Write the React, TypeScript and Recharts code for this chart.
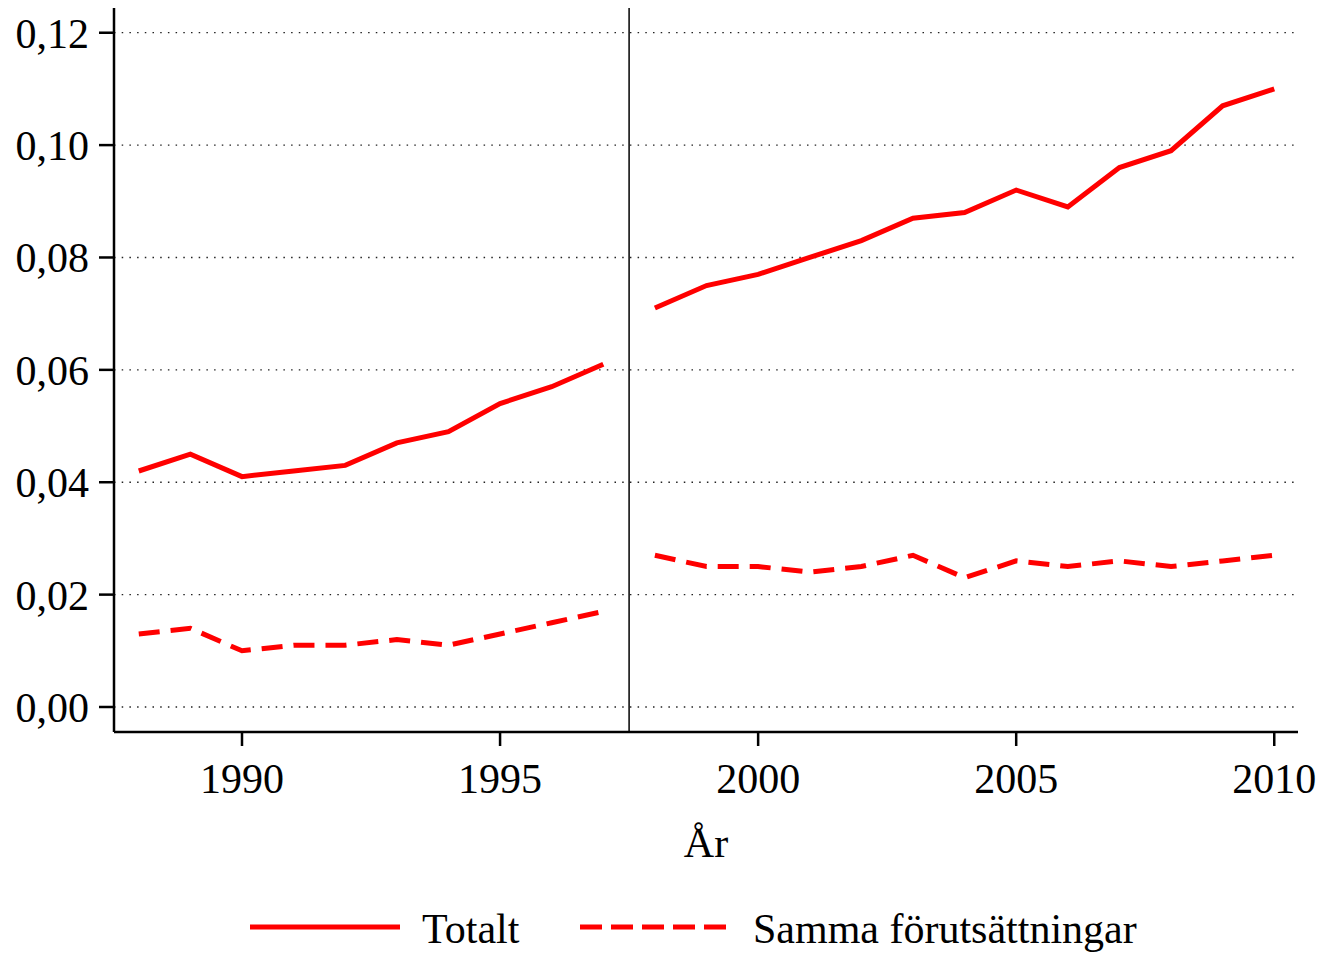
import { LineChart, Line, XAxis, YAxis, CartesianGrid, ReferenceLine } from 'recharts'

const RED = '#ff0000'
const FONT = '"Liberation Serif", "Times New Roman", serif'

// Two periods, drawn as separate segments (break between 1997 and 1998)
const yearsA = [1988, 1989, 1990, 1991, 1992, 1993, 1994, 1995, 1996, 1997]
const totaltA = [0.042, 0.045, 0.041, 0.042, 0.043, 0.047, 0.049, 0.054, 0.057, 0.061]
const sammaA = [0.013, 0.014, 0.010, 0.011, 0.011, 0.012, 0.011, 0.013, 0.015, 0.017]

const yearsB = [1998, 1999, 2000, 2001, 2002, 2003, 2004, 2005, 2006, 2007, 2008, 2009, 2010]
const totaltB = [0.071, 0.075, 0.077, 0.080, 0.083, 0.087, 0.088, 0.092, 0.089, 0.096, 0.099, 0.107, 0.110]
const sammaB = [0.027, 0.025, 0.025, 0.024, 0.025, 0.027, 0.023, 0.026, 0.025, 0.026, 0.025, 0.026, 0.027]

const breakYear = 1997.5
const xTicks = [1990, 1995, 2000, 2005, 2010]
const yTicks = [0, 0.02, 0.04, 0.06, 0.08, 0.1, 0.12]

const data = [
  ...yearsA.map((year, i) => ({ year, totalt: totaltA[i], samma: sammaA[i] })),
  { year: breakYear, totalt: null, samma: null },
  ...yearsB.map((year, i) => ({ year, totalt: totaltB[i], samma: sammaB[i] })),
]

const W = 1316
const H = 945

export default function App() {
  const tickStyle = { fontFamily: FONT, fontSize: 42, fill: '#000' }
  return (
    <div style={{ position: 'relative', width: W, height: H }}>
      <LineChart width={W} height={H} data={data} margin={{ top: 0, right: 26, left: 0, bottom: 0 }}>
        <CartesianGrid
          vertical={false}
          horizontalValues={yTicks}
          stroke="#222"
          strokeWidth={1.3}
          strokeDasharray="1.5 6.2"
        />
        <XAxis
          dataKey="year"
          type="number"
          domain={[1987.52, 2010.46]}
          allowDataOverflow
          ticks={xTicks}
          height={221}
          tickSize={14}
          tickMargin={17}
          stroke="#000"
          strokeWidth={2.5}
          tick={tickStyle}
          label={{ value: 'År', position: 'insideBottom', offset: 96, style: { ...tickStyle, textAnchor: 'middle' } }}
        />
        <YAxis
          type="number"
          domain={[-0.00445, 0.1244]}
          allowDataOverflow
          ticks={yTicks}
          width={106}
          tickSize={15}
          tickMargin={10}
          stroke="#000"
          strokeWidth={2.5}
          tick={tickStyle}
          tickFormatter={(v: number) => v.toFixed(2).replace('.', ',')}
        />
        <ReferenceLine x={breakYear} stroke="#000" strokeWidth={1.5} />
        <Line
          dataKey="totalt"
          stroke={RED}
          strokeWidth={5}
          dot={false}
          connectNulls={false}
          isAnimationActive={false}
        />
        <Line
          dataKey="samma"
          stroke={RED}
          strokeWidth={5}
          strokeDasharray="21 11"
          dot={false}
          connectNulls={false}
          isAnimationActive={false}
        />
      </LineChart>
      <svg width={W} height={H} style={{ position: 'absolute', left: 0, top: 0, pointerEvents: 'none' }}>
        <line x1={242} y1={919} x2={392} y2={919} stroke={RED} strokeWidth={5} />
        <text x={414} y={935} style={tickStyle}>Totalt</text>
        <line x1={572} y1={919} x2={718} y2={919} stroke={RED} strokeWidth={5} strokeDasharray="22 9" />
        <text x={745} y={935} style={tickStyle}>Samma förutsättningar</text>
      </svg>
    </div>
  )
}
